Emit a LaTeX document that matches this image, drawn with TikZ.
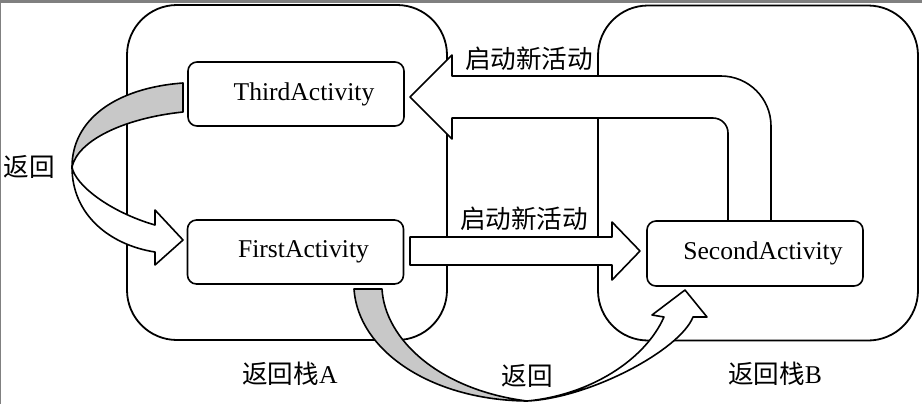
\documentclass[tikz,border=0pt]{standalone}
\usepackage{fontspec}
\setmainfont{Liberation Serif}
\newfontfamily\cjk{Noto Sans CJK SC}
\definecolor{bandgray}{RGB}{200,200,200}
\definecolor{framegray}{RGB}{128,128,128}

\begin{document}
\begin{tikzpicture}[x=0.5pt,y=-0.5pt,
  stackbox/.style={draw,line width=0.9pt,rounded corners=25pt,minimum width=160pt,minimum height=167.5pt,inner sep=0pt},
  actbox/.style={draw,fill=white,line width=0.8pt,rounded corners=4.5pt,minimum width=108pt,minimum height=32pt,inner sep=0pt,font=\fontsize{12.8pt}{15pt}\selectfont},
  bigarrow/.style={draw,fill=white,line width=0.8pt,line join=round},
  backband/.style={draw,fill=bandgray,line width=0.8pt,line join=round},
  txt/.style={font=\fontsize{12.8pt}{15pt}\selectfont,inner sep=0pt}]
  \useasboundingbox (0,0) rectangle (922,404);
  % page frame
  \fill[framegray] (0,0) rectangle (922,2.5);
  \fill[framegray] (0,0) rectangle (1.2,404);
  % back stacks
  \node[stackbox] (stackA) at (287,172.5) {};
  \node[stackbox] (stackB) at (758,173) {};
  \node[txt] (labA) at (290,374) {{\cjk 返回栈}A};
  \node[txt] (labB) at (775,374) {{\cjk 返回栈}B};
  % activities
  \node[actbox] (third) at (296,94) {\hspace{8pt}ThirdActivity};
  \node[actbox] (first) at (295.5,252) {\hspace{8pt}FirstActivity};
  \node[actbox,minimum height=32.5pt] (second) at (755,253.5) {\hspace{8pt}SecondActivity};
  % start new activity: first -> second
  \draw[bigarrow] (410,237) -- (612,237) -- (612,222) -- (640,251) -- (612,280)
    -- (612,265) -- (410,265) -- cycle;
  \node[txt] (startB) at (524,219) {\cjk 启动新活动};
  % start new activity: second -> third
  \draw[bigarrow] (728,221) -- (728,133) .. controls (728,124.7) and (721.3,118) .. (713,118)
    -- (452,118) -- (452,139) -- (410,97) -- (452,55) -- (452,76)
    -- (721,76) .. controls (748.6,76) and (771,98.4) .. (771,126) -- (771,221) -- cycle;
  \node[txt] (startA) at (529,59) {\cjk 启动新活动};
  % back: third -> first
  \draw[backband] (183,83) .. controls (115,88) and (72,120) .. (72,167)
    .. controls (78,140) and (125,118) .. (183,112) -- cycle;
  \draw[bigarrow] (72,167) .. controls (75,185) and (110,212) .. (155,225)
    -- (155,210) -- (183,240) -- (155,265) -- (155,252)
    .. controls (110,245) and (72,215) .. (72,167) -- cycle;
  \node[txt] (backL) at (29,167) {\cjk 返回};
  % back: first -> second
  \draw[backband] (354,289) -- (382,289) .. controls (385,340) and (440,390) .. (527,401)
    .. controls (430,400) and (358,350) .. (354,289) -- cycle;
  \draw[bigarrow] (527,401) .. controls (590,395) and (645,360) .. (664,317)
    -- (652,315) -- (685,290) -- (707,317) -- (693,317)
    .. controls (680,350) and (590,398) .. (527,401) -- cycle;
  \node[txt] (backB) at (527,376) {\cjk 返回};
\end{tikzpicture}
\end{document}
